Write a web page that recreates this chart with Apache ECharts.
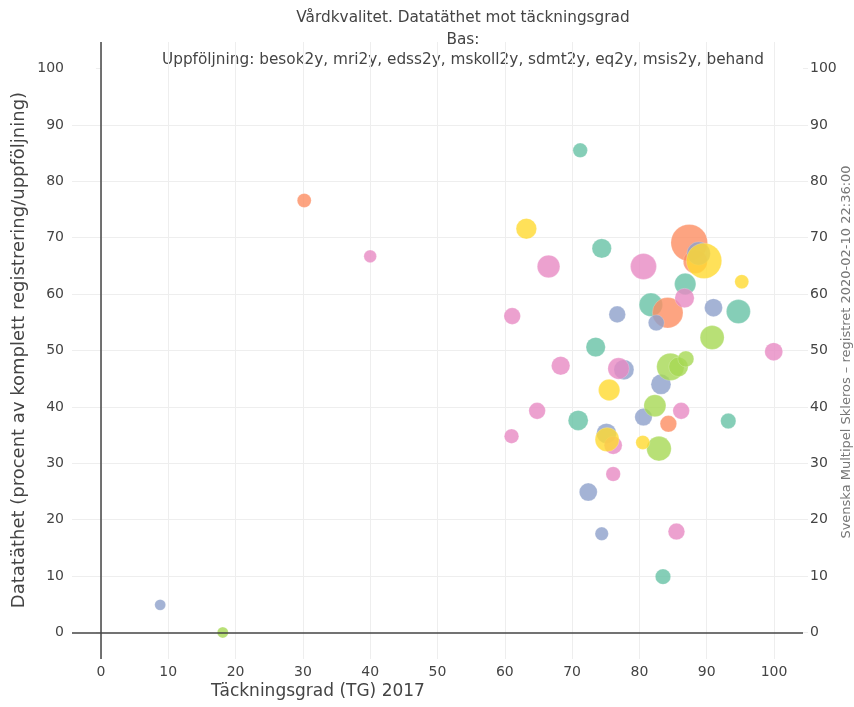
<!DOCTYPE html>
<html>
<head>
<meta charset="utf-8">
<script src="https://cdn.jsdelivr.net/npm/echarts@6/dist/echarts.min.js"></script>
<style>html,body{margin:0;padding:0;background:#fff}#c{width:854px;height:707px}</style>
</head>
<body>
<div id="c"></div>
<script>
// Data: [Täckningsgrad, Datatäthet, antal]
const teal = [[71.2,85.5,530],[74.4,68.1,940],[86.8,61.8,1140],[81.7,58.1,1370],[94.7,56.9,1440],[73.5,50.6,940],[70.9,37.6,1000],[93.2,37.5,590],[83.5,9.9,590]];
const orange = [[87.4,69.1,3350],[88.3,65.8,1440],[84.2,56.7,2340],[84.3,37.0,690],[30.2,76.6,490]];
const blue = [[88.8,67.2,1370],[76.7,56.4,690],[91.0,57.6,810],[82.5,54.9,640],[77.7,46.6,1000],[83.2,44.0,1000],[80.6,38.2,760],[75.1,35.3,1000],[72.4,24.9,810],[74.4,17.5,450],[8.8,4.9,300]];
const pink = [[66.5,64.9,1280],[80.6,64.9,1690],[86.7,59.3,940],[61.1,56.1,690],[99.95,49.8,810],[68.3,47.3,860],[76.9,46.8,1140],[64.8,39.3,690],[86.2,39.3,690],[61.0,34.8,530],[76.1,33.2,810],[76.1,28.1,530],[85.5,17.9,690],[40.0,66.7,400]];
const green = [[90.8,52.3,1440],[84.6,47.1,1880],[85.8,47.1,940],[86.9,48.5,640],[82.3,40.2,1210],[82.9,32.6,1510],[18.1,0,300]];
const yellow = [[63.2,71.6,1060],[89.6,65.9,3130],[95.2,62.2,490],[75.5,43.0,1140],[75.2,34.2,1440],[80.5,33.7,490]];
const tickValues = [0,10,20,30,40,50,60,70,80,90,100];

const groups = [
  {data: teal, color: '#66c2a5'},
  {data: orange, color: '#fc8d62'},
  {data: blue, color: '#8da0cb'},
  {data: pink, color: '#e78ac3'},
  {data: green, color: '#a6d854'},
  {data: yellow, color: '#ffd92f'}
];

const FONT = 'DejaVu Sans';
const chart = echarts.init(document.getElementById('c'), null, {renderer: 'canvas'});

const series = groups.map((g, i) => ({
  type: 'scatter',
  data: g.data,
  symbolSize: d => 2 * Math.sqrt(d[2] / 10),
  itemStyle: {color: g.color, opacity: 0.8, borderColor: 'rgba(255,255,255,0.5)', borderWidth: 0.5},
  silent: true,
  z: 3
}));
series.unshift({
  type: 'scatter', data: [], silent: true, z: 2,
  markLine: {
    silent: true, symbol: ['none','none'], label: {show: false},
    lineStyle: {color: '#444', width: 1.5, type: 'solid'},
    data: [{xAxis: 0}, {yAxis: 0}]
  }
});

const axisCommon = {
  type: 'value', min: -4.3, max: 104.3, splitNumber: 10,
  axisLine: {show: false},
  splitLine: {show: true, showMinLine: false, showMaxLine: false, lineStyle: {color: '#eeeeee', width: 1}},
  axisLabel: {fontFamily: FONT, fontSize: 14, color: '#444', customValues: tickValues}
};

chart.setOption({
  animation: false,
  backgroundColor: '#fff',
  grid: {left: 72, right: 51, top: 42, bottom: 48, containLabel: false, outerBoundsMode: 'none'},
  xAxis: Object.assign({}, axisCommon, {
    axisTick: {show: false},
    axisLabel: Object.assign({}, axisCommon.axisLabel, {margin: 6})
  }),
  yAxis: [
    Object.assign({}, axisCommon, {
      min: -4.7, max: 104.7,
      position: 'left',
      axisTick: {show: true, length: 5, lineStyle: {color: '#eeeeee'}, customValues: tickValues},
      axisLabel: Object.assign({}, axisCommon.axisLabel, {margin: 8})
    }),
    Object.assign({}, axisCommon, {
      min: -4.7, max: 104.7,
      position: 'right',
      splitLine: {show: false},
      axisTick: {show: true, length: 5, lineStyle: {color: '#eeeeee'}, customValues: tickValues},
      axisLabel: Object.assign({}, axisCommon.axisLabel, {margin: 7})
    })
  ],
  graphic: [
    {type: 'text', x: 463, y: 18, style: {text: 'Vårdkvalitet. Datatäthet mot täckningsgrad', font: '15.3px "DejaVu Sans"', fill: '#444', align: 'center', verticalAlign: 'middle'}},
    {type: 'text', x: 463, y: 40, style: {text: 'Bas:', font: '15.3px "DejaVu Sans"', fill: '#444', align: 'center', verticalAlign: 'middle'}},
    {type: 'text', x: 463, y: 60, style: {text: 'Uppföljning: besok2y, mri2y, edss2y, mskoll2y, sdmt2y, eq2y, msis2y, behand', font: '15.3px "DejaVu Sans"', fill: '#444', align: 'center', verticalAlign: 'middle'}},
    {type: 'text', x: 318, y: 692, style: {text: 'Täckningsgrad (TG) 2017', font: '17px "DejaVu Sans"', fill: '#444', align: 'center', verticalAlign: 'middle'}},
    {type: 'text', x: 19, y: 350, rotation: Math.PI / 2, style: {text: 'Datatäthet (procent av komplett registrering/uppföljning)', font: '18px "DejaVu Sans"', fill: '#444', align: 'center', verticalAlign: 'middle'}},
    {type: 'text', x: 847, y: 352, rotation: Math.PI / 2, style: {text: 'Svenska Multipel Skleros – registret 2020-02-10 22:36:00', font: '13px "DejaVu Sans"', fill: '#777', align: 'center', verticalAlign: 'middle'}}
  ],
  series: series
});
</script>
</body>
</html>
